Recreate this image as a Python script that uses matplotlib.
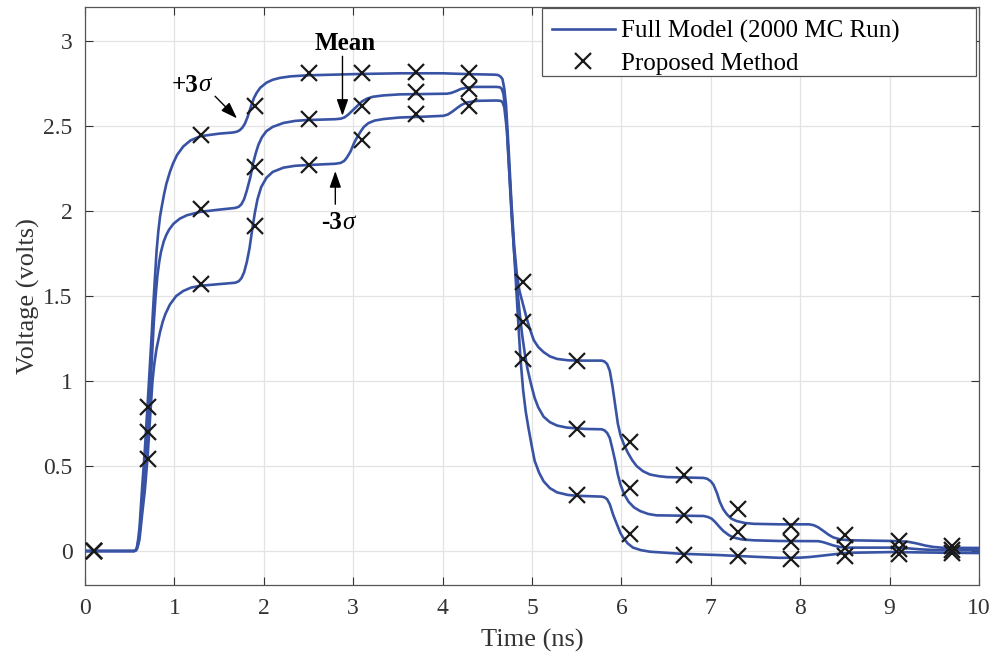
import numpy as np
import matplotlib
matplotlib.use('Agg')
import matplotlib.pyplot as plt
from matplotlib.patches import Rectangle

plt.rcParams['font.family'] = ['Liberation Serif', 'DejaVu Serif']

# full-model waveforms (time ns, voltage V)
upper = [(0, 0), (0.55, 0), (0.565, 0.003), (0.58, 0.02), (0.595, 0.07), (0.61, 0.14), (0.64, 0.38),
         (0.67, 0.60), (0.70, 0.86), (0.74, 1.22), (0.77, 1.50), (0.80, 1.76), (0.82, 1.88), (0.84, 1.97),
         (0.86, 2.03), (0.885, 2.10), (0.91, 2.16), (0.95, 2.23), (0.985, 2.28), (1.03, 2.33), (1.10, 2.38),
         (1.18, 2.415), (1.29, 2.44), (1.50, 2.455), (1.66, 2.462), (1.70, 2.467), (1.73, 2.475),
         (1.76, 2.49), (1.79, 2.515), (1.82, 2.555), (1.86, 2.62), (1.89, 2.665), (1.92, 2.695),
         (1.96, 2.725), (2.03, 2.755), (2.10, 2.772), (2.18, 2.783), (2.30, 2.792), (2.48, 2.798),
         (3.08, 2.806), (3.52, 2.81), (4.00, 2.81), (4.30, 2.805), (4.58, 2.802), (4.62, 2.80),
         (4.65, 2.79), (4.67, 2.775), (4.69, 2.72), (4.71, 2.62), (4.74, 2.35), (4.77, 2.05), (4.80, 1.80),
         (4.83, 1.63), (4.86, 1.53), (4.90, 1.45), (4.94, 1.37), (4.98, 1.30), (5.02, 1.24), (5.07, 1.20),
         (5.13, 1.17), (5.20, 1.145), (5.28, 1.13), (5.40, 1.122), (5.50, 1.12), (5.78, 1.12),
         (5.81, 1.115), (5.84, 1.10), (5.87, 1.06), (5.90, 0.97), (5.93, 0.86), (5.96, 0.75), (5.99, 0.68),
         (6.03, 0.625), (6.07, 0.58), (6.12, 0.535), (6.17, 0.50), (6.24, 0.47), (6.32, 0.45), (6.42, 0.44),
         (6.51, 0.435), (6.92, 0.43), (6.96, 0.425), (7.00, 0.41), (7.03, 0.39), (7.07, 0.34), (7.10, 0.29),
         (7.14, 0.245), (7.18, 0.216), (7.23, 0.19), (7.29, 0.176), (7.38, 0.165), (7.48, 0.16),
         (7.77, 0.157), (8.10, 0.157), (8.15, 0.152), (8.20, 0.14), (8.26, 0.118), (8.32, 0.095),
         (8.37, 0.08), (8.45, 0.068), (8.56, 0.063), (9.04, 0.059), (9.20, 0.055), (9.30, 0.045),
         (9.40, 0.032), (9.49, 0.024), (9.60, 0.019), (10.0, 0.018)]

mean = [(0, 0), (0.55, 0), (0.565, 0.003), (0.58, 0.015), (0.595, 0.05), (0.61, 0.10), (0.64, 0.30),
        (0.67, 0.48), (0.70, 0.70), (0.74, 1.05), (0.77, 1.35), (0.79, 1.50), (0.81, 1.62), (0.83, 1.70),
        (0.85, 1.76), (0.88, 1.82), (0.91, 1.86), (0.94, 1.89), (0.99, 1.925), (1.06, 1.955),
        (1.14, 1.975), (1.29, 1.995), (1.50, 2.008), (1.68, 2.018), (1.72, 2.025), (1.75, 2.04),
        (1.78, 2.07), (1.81, 2.12), (1.85, 2.20), (1.88, 2.28), (1.91, 2.34), (1.94, 2.39), (1.98, 2.435),
        (2.03, 2.47), (2.10, 2.495), (2.22, 2.518), (2.35, 2.53), (2.48, 2.535), (2.80, 2.54),
        (2.86, 2.543), (2.90, 2.55), (2.94, 2.565), (2.98, 2.585), (3.02, 2.605), (3.06, 2.625),
        (3.10, 2.645), (3.15, 2.66), (3.22, 2.672), (3.34, 2.68), (3.52, 2.686), (4.05, 2.69),
        (4.10, 2.695), (4.15, 2.705), (4.20, 2.717), (4.26, 2.725), (4.34, 2.73), (4.60, 2.73),
        (4.64, 2.728), (4.66, 2.72), (4.68, 2.69), (4.71, 2.57), (4.74, 2.28), (4.77, 1.99), (4.80, 1.76),
        (4.83, 1.57), (4.86, 1.41), (4.89, 1.27), (4.92, 1.16), (4.95, 1.07), (4.99, 0.98), (5.03, 0.90),
        (5.07, 0.845), (5.13, 0.79), (5.20, 0.758), (5.28, 0.738), (5.39, 0.726), (5.60, 0.718),
        (5.78, 0.716), (5.81, 0.71), (5.84, 0.695), (5.87, 0.665), (5.90, 0.60), (5.93, 0.53),
        (5.96, 0.45), (5.99, 0.39), (6.03, 0.335), (6.08, 0.29), (6.14, 0.257), (6.21, 0.235),
        (6.30, 0.218), (6.39, 0.21), (6.92, 0.206), (6.97, 0.20), (7.01, 0.19), (7.05, 0.17), (7.10, 0.14),
        (7.14, 0.118), (7.20, 0.094), (7.25, 0.08), (7.35, 0.068), (7.48, 0.063), (7.77, 0.059),
        (8.20, 0.058), (8.25, 0.053), (8.30, 0.045), (8.37, 0.033), (8.44, 0.024), (8.52, 0.02),
        (9.04, 0.02), (9.20, 0.016), (9.34, 0.01), (9.50, 0.006), (9.64, 0.005), (10.0, 0.004)]

lower = [(0, 0), (0.55, 0), (0.565, 0.002), (0.58, 0.01), (0.595, 0.035), (0.61, 0.07), (0.64, 0.22),
         (0.67, 0.36), (0.70, 0.55), (0.73, 0.80), (0.755, 1.00), (0.775, 1.10), (0.80, 1.19), (0.84, 1.29),
         (0.87, 1.35), (0.90, 1.395), (0.95, 1.45), (1.02, 1.50), (1.10, 1.53), (1.19, 1.55), (1.29, 1.56),
         (1.50, 1.57), (1.68, 1.578), (1.72, 1.587), (1.75, 1.605), (1.78, 1.64), (1.81, 1.70),
         (1.84, 1.78), (1.87, 1.89), (1.90, 1.99), (1.93, 2.07), (1.97, 2.14), (2.03, 2.196), (2.10, 2.23),
         (2.22, 2.255), (2.35, 2.266), (2.48, 2.27), (2.80, 2.278), (2.86, 2.283), (2.90, 2.295),
         (2.93, 2.315), (2.97, 2.35), (3.01, 2.40), (3.04, 2.43), (3.08, 2.465), (3.12, 2.495),
         (3.17, 2.517), (3.24, 2.532), (3.34, 2.541), (3.52, 2.55), (3.80, 2.555), (4.01, 2.56),
         (4.06, 2.568), (4.11, 2.585), (4.16, 2.605), (4.21, 2.624), (4.27, 2.638), (4.38, 2.648),
         (4.60, 2.65), (4.65, 2.648), (4.67, 2.64), (4.69, 2.61), (4.72, 2.47), (4.75, 2.20), (4.78, 1.93),
         (4.81, 1.67), (4.84, 1.40), (4.87, 1.14), (4.90, 0.95), (4.93, 0.82), (4.96, 0.725), (5.00, 0.61),
         (5.03, 0.53), (5.08, 0.46), (5.13, 0.41), (5.20, 0.37), (5.28, 0.345), (5.40, 0.33), (5.50, 0.325),
         (5.78, 0.32), (5.81, 0.316), (5.84, 0.305), (5.87, 0.275), (5.91, 0.21), (5.95, 0.157),
         (5.99, 0.105), (6.02, 0.078), (6.07, 0.045), (6.13, 0.02), (6.22, 0.005), (6.32, -0.004),
         (6.66, -0.016), (7.10, -0.024), (7.50, -0.034), (7.77, -0.04), (8.00, -0.039), (8.11, -0.035),
         (8.20, -0.03), (8.30, -0.024), (8.45, -0.015), (8.59, -0.01), (9.04, -0.006), (9.60, -0.01),
         (10.0, -0.012)]

# proposed method samples
sample_t = [0.1, 0.7, 1.3, 1.9, 2.5, 3.1, 3.7, 4.3, 4.9, 5.5, 6.1, 6.7, 7.3, 7.9, 8.5, 9.1, 9.7]
sample_hi = [0, 0.85, 2.45, 2.62, 2.81, 2.81, 2.82, 2.81, 1.58, 1.12, 0.64, 0.45, 0.25, 0.145, 0.095, 0.06, 0.03]
sample_mid = [0, 0.70, 2.01, 2.26, 2.54, 2.62, 2.70, 2.72, 1.35, 0.72, 0.37, 0.21, 0.11, 0.055, 0.015, 0.01, 0.006]
sample_lo = [0, 0.54, 1.57, 1.91, 2.27, 2.42, 2.57, 2.62, 1.13, 0.33, 0.10, -0.025, -0.03, -0.045, -0.03, -0.02, -0.01]

blue = '#3953a4'
grey = '#333333'

fig = plt.figure(figsize=(9.93, 6.60), dpi=100)
ax = fig.add_axes([0.0856, 0.1136, 0.9003, 0.8758])

for curve in (upper, mean, lower):
    c = np.array(curve)
    ax.plot(c[:, 0], c[:, 1], color=blue, lw=1.9, solid_joinstyle='round')
line_h, = ax.plot([], [], color=blue, lw=1.9)

mk = dict(ls='none', marker='x', color='#1a1a1a', ms=11, mew=1.6, zorder=5)
for vals in (sample_hi, sample_mid, sample_lo):
    ax.plot(sample_t, vals, **mk)
mark_h, = ax.plot([], [], **mk)

ax.set_xlim(0, 10)
ax.set_ylim(-0.2, 3.2)
ax.set_xticks(np.arange(0, 11, 1))
ax.set_yticks([0, 0.5, 1, 1.5, 2, 2.5, 3])
ax.set_yticklabels(['0', '0.5', '1', '1.5', '2', '2.5', '3'])
ax.grid(True, color='#e3e3e3', lw=0.9)
ax.set_axisbelow(True)
ax.tick_params(direction='in', length=6, width=0.8, top=True, right=True,
               labelsize=17, colors=grey, pad=9)
for s in ax.spines.values():
    s.set_color('#555555')
    s.set_linewidth(0.9)

ax.set_xlabel('Time (ns)', fontsize=19, color=grey, labelpad=7.5)
ax.set_ylabel('Voltage (volts)', fontsize=19, color=grey, labelpad=2.5)

# curve labels with arrows
arr = dict(arrowstyle='-|>,head_length=1.0,head_width=0.35', color='k', lw=1.0,
           shrinkA=0, shrinkB=0)
ax.annotate('', xy=(1.70, 2.545), xytext=(1.455, 2.675), arrowprops=arr)
ax.text(1.264, 2.74, '+3', fontsize=18, fontweight='bold', ha='right', va='center')
ax.text(1.264, 2.74, 'σ', fontsize=18, fontstyle='italic', ha='left', va='center')
ax.annotate('', xy=(2.88, 2.56), xytext=(2.88, 2.91), arrowprops=arr)
ax.text(2.91, 2.985, 'Mean', fontsize=18, fontweight='bold', ha='center', va='center')
ax.annotate('', xy=(2.80, 2.235), xytext=(2.80, 2.04), arrowprops=arr)
ax.text(2.875, 1.93, '-3', fontsize=18, fontweight='bold', ha='right', va='center')
ax.text(2.875, 1.93, 'σ', fontsize=18, fontstyle='italic', ha='left', va='center')

# legend box
ax.add_patch(Rectangle((0.511, 0.8806), 0.4856, 0.1174, transform=ax.transAxes,
                       facecolor='white', edgecolor='#555555', lw=0.9, zorder=6))
leg = ax.legend([line_h, mark_h], ['Full Model (2000 MC Run)', 'Proposed Method'],
                loc='upper left', bbox_to_anchor=(0.5224, 0.9775), borderaxespad=0,
                fontsize=18, frameon=False, handlelength=2.5, handletextpad=0.25,
                labelspacing=0.37, borderpad=0)
leg.set_zorder(7)

fig.savefig('out.png', dpi=100)
